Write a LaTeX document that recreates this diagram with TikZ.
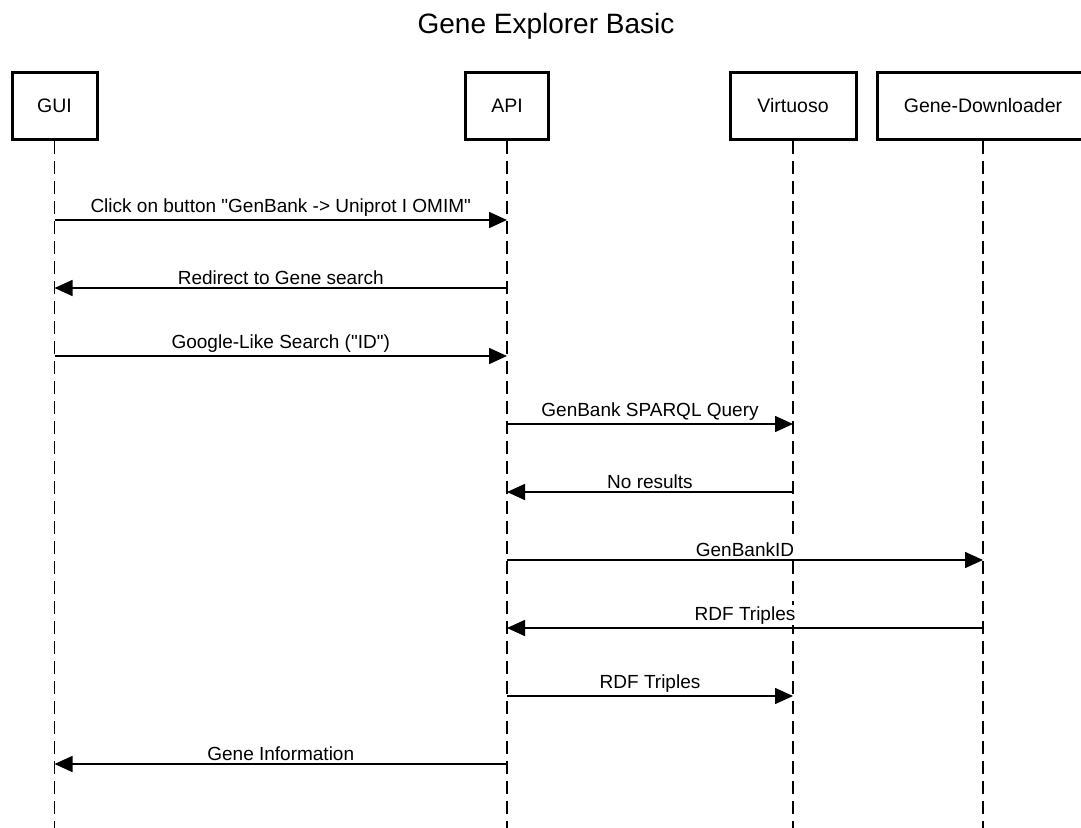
\documentclass[tikz,border=0pt]{standalone}
\usepackage{fontspec}
\setmainfont{Liberation Sans}
\usetikzlibrary{arrows.meta,positioning}

\begin{document}
\begin{tikzpicture}[x=1pt,y=-1pt,
actor/.style={draw, line width=3pt, minimum height=67pt, font=\fontsize{19.5}{22}\selectfont},
lifeline/.style={line width=1.7pt, dash pattern=on 13pt off 7pt},
msg/.style={line width=1.6pt, -{Triangle[length=18pt,width=16pt]}},
lbl/.style={fill=white, inner sep=1pt, above=2pt, font=\fontsize{19}{21}\selectfont}]

\useasboundingbox (0,0) rectangle (1081,827);

% Title
\node[font=\fontsize{28}{32}\selectfont] (title) at (546,26) {Gene Explorer Basic};

% Participants
\node[actor, minimum width=85pt] (gui) at (54.5,106) {GUI};
\node[actor, minimum width=83pt] (api) at (507,106) {API};
\node[actor, minimum width=126pt] (virt) at (793,106) {Virtuoso};
\node[actor, minimum width=212pt] (gdl) at (983,106) {Gene-Downloader};

% Lifelines
\coordinate (bottom) at (0,830);
\foreach \p in {gui,api,virt,gdl}
    \draw[lifeline] (\p.south) -- (\p |- bottom);

% Message rows
\coordinate (r1) at (0,220);
\coordinate (r2) at (0,288);
\coordinate (r3) at (0,356);
\coordinate (r4) at (0,424);
\coordinate (r5) at (0,492);
\coordinate (r6) at (0,560);
\coordinate (r7) at (0,628);
\coordinate (r8) at (0,696);
\coordinate (r9) at (0,764);

% Messages
\draw[msg] (gui |- r1) -- node[lbl] {Click on button \textquotedbl GenBank -> Uniprot I OMIM\textquotedbl} (api |- r1);
\draw[msg] (api |- r2) -- node[lbl] {Redirect to Gene search} (gui |- r2);
\draw[msg] (gui |- r3) -- node[lbl] {Google-Like Search (\textquotedbl ID\textquotedbl)} (api |- r3);
\draw[msg] (api |- r4) -- node[lbl] {GenBank SPARQL Query} (virt |- r4);
\draw[msg] (virt |- r5) -- node[lbl] {No results} (api |- r5);
\draw[msg] (api |- r6) -- node[lbl] {GenBankID} (gdl |- r6);
\draw[msg] (gdl |- r7) -- node[lbl] {RDF Triples} (api |- r7);
\draw[msg] (api |- r8) -- node[lbl] {RDF Triples} (virt |- r8);
\draw[msg] (api |- r9) -- node[lbl] {Gene Information} (gui |- r9);
\end{tikzpicture}
\end{document}
